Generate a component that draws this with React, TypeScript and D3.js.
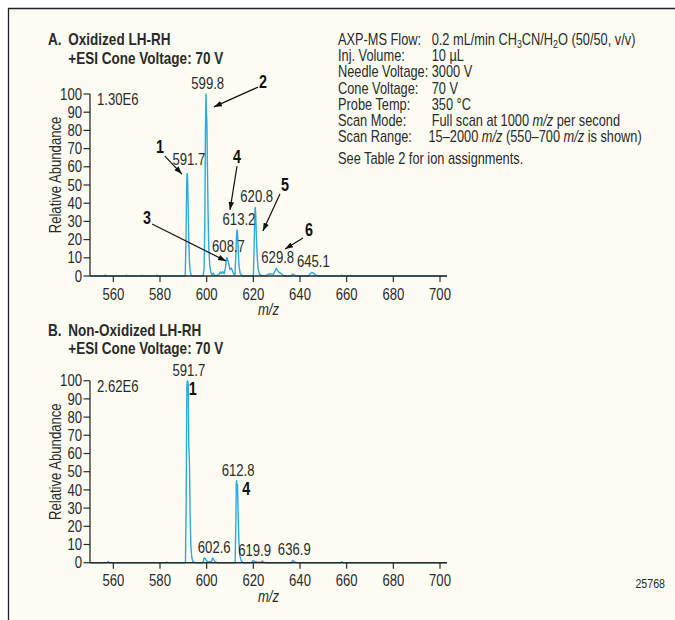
import React from "react";
import * as d3 from "d3";

// ---------- data ----------
const xTicks = [560, 580, 600, 620, 640, 660, 680, 700];
const yTicks = [0, 10, 20, 30, 40, 50, 60, 70, 80, 90, 100];

// Panel A: oxidized LH-RH profile spectrum [m/z, relative abundance]
const spectrumA: [number, number][] = [
  [550, 0], [556.3, 0], [556.6, 0.6], [556.9, 0], [565.3, 0], [565.6, 0.5], [565.9, 0],
  [572, 0], [572.3, 0.4], [572.6, 0], [578.3, 0], [578.6, 0.5], [578.9, 0],
  [590.8, 0], [591.1, 18], [591.4, 48], [591.6, 56.4], [591.8, 55], [592.0, 42], [592.3, 22],
  [592.6, 9], [592.9, 3], [593.3, 0.6], [594, 0],
  [598.5, 0], [598.9, 4], [599.2, 30], [599.5, 82], [599.7, 100], [599.85, 92], [599.95, 88],
  [600.1, 84], [600.3, 62], [600.6, 35], [600.9, 16], [601.3, 6], [601.8, 2], [602.3, 0.6],
  [602.8, 1.6], [603.3, 0.5], [604.3, 0.3], [605.2, 0.8], [605.9, 2.2], [606.4, 1.4],
  [606.9, 2.4], [607.5, 1.2], [608.1, 5], [608.5, 9.5], [608.7, 10.2], [609.0, 9],
  [609.5, 6.5], [610.0, 3.5], [610.5, 4.4], [611.0, 3], [611.6, 1], [612.1, 0.6],
  [612.5, 11], [612.8, 22], [613.0, 25.3], [613.2, 24], [613.5, 15], [613.9, 5], [614.4, 1.2],
  [615.2, 0.3], [616, 0], [620.0, 0], [620.3, 14], [620.6, 33], [620.8, 37.7], [621.0, 35],
  [621.3, 22], [621.7, 10], [622.1, 3.5], [622.7, 1], [623.6, 0.2], [625.5, 0.2],
  [626.5, 1], [627.5, 1.2], [628.6, 0.9], [629.4, 3], [629.8, 4.2], [630.3, 3.2],
  [631.0, 2], [631.8, 1.4], [632.6, 0.5], [633.5, 0], [636.2, 0], [636.9, 1.1], [637.6, 0.5],
  [638.6, 0], [643.6, 0], [644.4, 1.2], [645.1, 2], [645.8, 1.6], [646.6, 0.6], [647.6, 0],
  [657.6, 0], [657.9, 0.5], [658.2, 0], [661.3, 0], [661.6, 0.5], [661.9, 0], [703, 0],
];

// Panel B: non-oxidized LH-RH profile spectrum
const spectrumB: [number, number][] = [
  [550, 0], [557.4, 0], [557.8, 0.7], [558.2, 0], [582.8, 0], [583.1, 0.4], [583.4, 0],
  [590.9, 0], [591.2, 30], [591.5, 96], [591.7, 100], [591.9, 99.5], [592.1, 98],
  [592.3, 66], [592.6, 56], [592.9, 28], [593.2, 10], [593.6, 3], [594.1, 0.6], [595, 0],
  [598.4, 0], [598.9, 2.6], [599.4, 2.2], [600.0, 1], [600.8, 0.4], [602.1, 0.8],
  [602.6, 2.6], [603.1, 1.6], [603.7, 0.5], [604.6, 0],
  [612.2, 0], [612.5, 22], [612.7, 44], [612.85, 45], [613.0, 41], [613.2, 43], [613.5, 26],
  [613.8, 12], [614.2, 4], [614.8, 1], [615.6, 0], [619.2, 0], [619.9, 1.2], [620.6, 0.6],
  [621.6, 0.3], [623.4, 0.4], [623.9, 1], [624.4, 0.3], [625.2, 0],
  [636.2, 0], [636.9, 1.3], [637.6, 0.5], [638.6, 0], [657.7, 0], [658.0, 0.6], [658.3, 0],
  [703, 0],
];

// peak labels: [m/z, abundance, text]
const peakLabelsA: [number, number, string][] = [
  [591.7, 56.4, "591.7"], [599.8, 100, "599.8"], [608.7, 10.2, "608.7"], [613.2, 25.3, "613.2"],
  [620.8, 37.7, "620.8"], [629.8, 4.2, "629.8"], [645.1, 2, "645.1"],
];
const peakLabelsB: [number, number, string][] = [
  [591.7, 100, "591.7"], [612.8, 45, "612.8"], [602.6, 2.6, "602.6"], [619.9, 1.2, "619.9"],
  [636.9, 1.3, "636.9"],
];

// ion assignment callouts: [id, labelMz, labelAb, tailMz, tailAb, headMz, headAb]
const calloutsA: [string, number, number, number, number, number, number][] = [
  ["1", 580.0, 70.9, 582.1, 65.9, 589.4, 56.0],
  ["2", 624.1, 106.6, 622.0, 103.8, 603.1, 92.9],
  ["3", 574.4, 31.9, 576.6, 28.6, 608.3, 8.2],
  ["4", 613.0, 65.4, 613.0, 60.4, 610.0, 36.3],
  ["5", 633.6, 50.0, 631.4, 45.1, 624.1, 24.7],
  ["6", 643.9, 25.3, 641.3, 20.9, 633.6, 14.8],
];
const calloutsB: [string, number, number][] = [
  ["1", 594.0, 95.4],
  ["4", 617.0, 40.5],
];

const paramLabels = [
  "AXP-MS Flow:", "Inj. Volume:", "Needle Voltage:", "Cone Voltage:",
  "Probe Temp:", "Scan Mode:", "Scan Range:",
];
type Seg = { t: string; sub?: boolean; it?: boolean };
const paramValues: Seg[][] = [
  [{ t: "0.2 mL/min CH" }, { t: "3", sub: true }, { t: "CN/H" }, { t: "2", sub: true }, { t: "O (50/50, v/v)" }],
  [{ t: "10 µL" }],
  [{ t: "3000 V" }],
  [{ t: "70 V" }],
  [{ t: "350 °C" }],
  [{ t: "Full scan at 1000 " }, { t: "m/z", it: true }, { t: " per second" }],
  [{ t: "15–2000 " }, { t: "m/z", it: true }, { t: " (550–700 " }, { t: "m/z", it: true }, { t: " is shown)" }],
];
const footnote = "See Table 2 for ion assignments.";

// ---------- style ----------
const FONT = "'Liberation Sans', Arial, sans-serif";
const SX = 0.82; // horizontal condensing of the sans face
const BLUE = "#2ba9e1";
const INK = "#2a2a2a";
const CREAM = "#fcfcf3";
const FS = 16;

function T(props: {
  x: number; y: number; size: number; anchor?: "start" | "middle" | "end"; bold?: boolean;
  italic?: boolean; fill?: string; rotate?: number; sx?: number; children: React.ReactNode;
}) {
  const { x, y, size, anchor = "start", bold, italic, fill = INK, rotate, sx = SX } = props;
  const tr = rotate ? `translate(${x},${y}) rotate(${rotate}) scale(${sx},1)` : `translate(${x},${y}) scale(${sx},1)`;
  return (
    <text transform={tr} textAnchor={anchor} fontFamily={FONT} fontSize={size}
      fontWeight={bold ? "bold" : "normal"} fontStyle={italic ? "italic" : "normal"} fill={fill}>
      {props.children}
    </text>
  );
}

const x = d3.scaleLinear().domain([550, 703]).range([90, 447]);

function Panel(props: {
  y0: number; y100: number; spectrum: [number, number][]; labels: [number, number, string][];
  scaleText: string; title1: string; title2: string; titleY: number; labelLift?: Record<string, number>;
  children?: (y: d3.ScaleLinear<number, number>) => React.ReactNode;
}) {
  const { y0, y100, spectrum, labels, scaleText, title1, title2, titleY, labelLift = {} } = props;
  const y = d3.scaleLinear().domain([0, 100]).range([y0, y100]);
  const line = d3.line<[number, number]>().x((d) => x(d[0])).y((d) => y(d[1]));
  const [letter, ...rest] = title1.split(" ");
  return (
    <g>
      <T x={48} y={titleY} size={16.5} bold>{letter}</T>
      <T x={68.3} y={titleY} size={16.5} bold>{rest.join(" ")}</T>
      <T x={68.3} y={titleY + 18.5} size={16.5} bold>{title2}</T>
      {/* y axis */}
      <line x1={x(550)} x2={x(550)} y1={y(0)} y2={y(100)} stroke={INK} strokeWidth={1.3} />
      {yTicks.map((t) => (
        <g key={t}>
          <line x1={x(550) - 6.5} x2={x(550)} y1={y(t)} y2={y(t)} stroke={INK} strokeWidth={1.2} />
          <T x={x(550) - 8} y={y(t) + 5.6} anchor="end" size={FS}>{t}</T>
        </g>
      ))}
      <T x={60.5} y={(y(0) + y(100)) / 2 - 10} rotate={-90} anchor="middle" size={FS}>Relative Abundance</T>
      {/* spectrum + x axis */}
      <path d={line(spectrum) || ""} fill="none" stroke={BLUE} strokeWidth={1.4} strokeLinejoin="round" />
      <line x1={x(550)} x2={x(703)} y1={y(0)} y2={y(0)} stroke={INK} strokeWidth={1.5} />
      {xTicks.map((t) => (
        <g key={t}>
          <line x1={x(t)} x2={x(t)} y1={y(0)} y2={y(0) + 6} stroke={INK} strokeWidth={1.2} />
          <T x={x(t)} y={y(0) + 23.5} anchor="middle" size={FS}>{t}</T>
        </g>
      ))}
      <T x={(x(550) + x(703)) / 2} y={y(0) + 39} anchor="middle" italic size={FS}>m/z</T>
      <T x={97} y={y(100) + 11} size={FS}>{scaleText}</T>
      {labels.map(([mz, ab, s]) => (
        <T key={s} x={x(mz) + 1.5} y={y(ab) - 5 - (labelLift[s] || 0)} anchor="middle" size={FS}>{s}</T>
      ))}
      {props.children && props.children(y)}
    </g>
  );
}

export default function App() {
  const BSX = 0.8;
  return (
    <svg width={675} height={620} style={{ position: "absolute", left: 0, top: 0, background: "#fff" }}>
      <defs>
        <marker id="ah" viewBox="0 0 10 10" refX={10} refY={5} markerWidth={8} markerHeight={8}
          markerUnits="userSpaceOnUse" orient="auto">
          <path d="M0,1.5 L10,5 L0,8.5 z" fill="#111" />
        </marker>
      </defs>
      <rect x={8} y={8} width={667} height={612} fill={CREAM} />
      <line x1={8} x2={675} y1={8.5} y2={8.5} stroke="#222" strokeWidth={1.3} />
      <line x1={8.5} x2={8.5} y1={8} y2={620} stroke="#222" strokeWidth={1.3} />

      <Panel y0={276} y100={94} spectrum={spectrumA} labels={peakLabelsA} scaleText="1.30E6"
        title1="A. Oxidized LH-RH" title2="+ESI Cone Voltage: 70 V" titleY={45} labelLift={{ "591.7": 3 }}>
        {(y) => calloutsA.map(([id, lx, ly, tx, ty, hx, hy]) => (
          <g key={id}>
            <line x1={x(tx)} y1={y(ty)} x2={x(hx)} y2={y(hy)} stroke="#111" strokeWidth={1.2} markerEnd="url(#ah)" />
            <T x={x(lx)} y={y(ly) + 6} anchor="middle" bold size={17.5} fill="#111">{id}</T>
          </g>
        ))}
      </Panel>

      <Panel y0={562.7} y100={380.7} spectrum={spectrumB} labels={peakLabelsB} scaleText="2.62E6"
        title1="B. Non-Oxidized LH-RH" title2="+ESI Cone Voltage: 70 V" titleY={335.5}>
        {(y) => calloutsB.map(([id, lx, ly]) => (
          <T key={id} x={x(lx)} y={y(ly) + 6} anchor="middle" bold size={17.5} fill="#111">{id}</T>
        ))}
      </Panel>

      {/* method parameters */}
      {paramLabels.map((l, i) => (
        <g key={l}>
          <T x={338} y={44.8 + i * 16.25} size={FS} sx={BSX}>{l}</T>
          <T x={i === 6 ? 428.5 : 431.7} y={44.8 + i * 16.25} size={FS} sx={BSX}>
            {paramValues[i].map((s, j) => (
              <tspan key={j} fontStyle={s.it ? "italic" : undefined} fontSize={s.sub ? 11 : undefined}
                dy={s.sub ? 3 : j > 0 && paramValues[i][j - 1].sub ? -3 : undefined}>{s.t}</tspan>
            ))}
          </T>
        </g>
      ))}
      <T x={338} y={163.5} size={FS} sx={BSX}>{footnote}</T>
      <T x={665} y={588} anchor="end" size={13}>25768</T>
    </svg>
  );
}
